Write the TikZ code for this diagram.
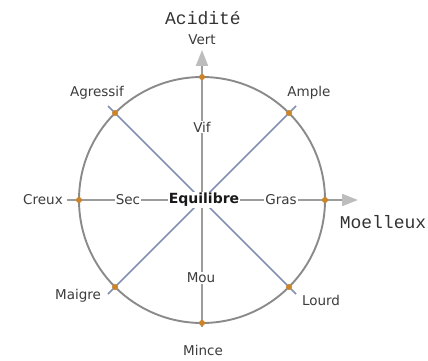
\documentclass[tikz,border=0pt]{standalone}
\usepackage{fontspec}
\setmainfont{DejaVu Sans}
\newfontfamily\axisfont{Liberation Mono}
\usetikzlibrary{arrows.meta}
\definecolor{circcol}{HTML}{8A8A8A}
\definecolor{axiscol}{HTML}{9C9C9C}
\definecolor{headcol}{HTML}{BDBDBD}
\definecolor{diagcol}{HTML}{8190B0}
\definecolor{dotcol}{HTML}{CC8428}
\definecolor{labcol}{HTML}{3C3C3C}
\tikzset{
  dotmark/.style={circle,fill=dotcol,inner sep=0pt,minimum size=6pt},
  lab/.style={text=labcol,inner sep=1pt,font=\fontsize{13.5}{15}\selectfont},
  inlab/.style={lab,fill=white},
  axislab/.style={text=black!80,inner sep=0pt,font=\axisfont\fontsize{18}{20}\selectfont},
  axisline/.style={axiscol,line width=2pt},
  arrowline/.style={axisline,-{Triangle[width=12pt,length=16pt,color=headcol,fill=headcol]}},
  diagline/.style={diagcol,line width=1.7pt},
}
\begin{document}
\begin{tikzpicture}[x=1pt,y=-1pt]
\useasboundingbox (0,0) rectangle (428,361);
\coordinate (O) at (202,200);
\coordinate (hL) at (67,200);
\coordinate (hR) at (358,200);
\coordinate (vB) at (202,327);
\coordinate (vT) at (202,50);
\coordinate (e1) at (108,106);
\coordinate (e2) at (296,294);
\coordinate (e3) at (296,106);
\coordinate (e4) at (108,294);
% circle
\draw[circcol,line width=1.9pt] (O) circle[radius=123];
% axes
\draw[arrowline] (hL) -- (hR);
\draw[arrowline] (vB) -- (vT);
% diagonals
\draw[diagline] (e1) -- (e2);
\draw[diagline] (e3) -- (e4);
% dots
\node[dotmark] (pT) at (202,77) {};
\node[dotmark] (pB) at (202,323) {};
\node[dotmark] (pL) at (79,200) {};
\node[dotmark] (pR) at (325,200) {};
\node[dotmark] (pAg) at (115,113) {};
\node[dotmark] (pAm) at (289,113) {};
\node[dotmark] (pMa) at (115,287) {};
\node[dotmark] (pLo) at (289,287) {};
% labels
\node[axislab] (acid) at (203,18) {Acidité};
\node[axislab] (moel) at (383,222) {Moelleux};
\node[lab] (vert) at (202,40) {Vert};
\node[lab] (agr) at (97,93) {Agressif};
\node[lab] (amp) at (309,93) {Ample};
\node[lab] (creux) at (43,200) {Creux};
\node[inlab] (sec) at (128,200) {Sec};
\node[inlab,text=black!90,font=\bfseries\fontsize{14}{16}\selectfont] (equi) at (204,200) {Equilibre};
\node[inlab] (gras) at (281,200) {Gras};
\node[inlab] (vif) at (202,127) {Vif};
\node[inlab] (mou) at (201,278) {Mou};
\node[lab] (maig) at (78,296) {Maigre};
\node[lab] (lour) at (321,300) {Lourd};
\node[lab] (minc) at (203,350) {Mince};
\end{tikzpicture}
\end{document}
